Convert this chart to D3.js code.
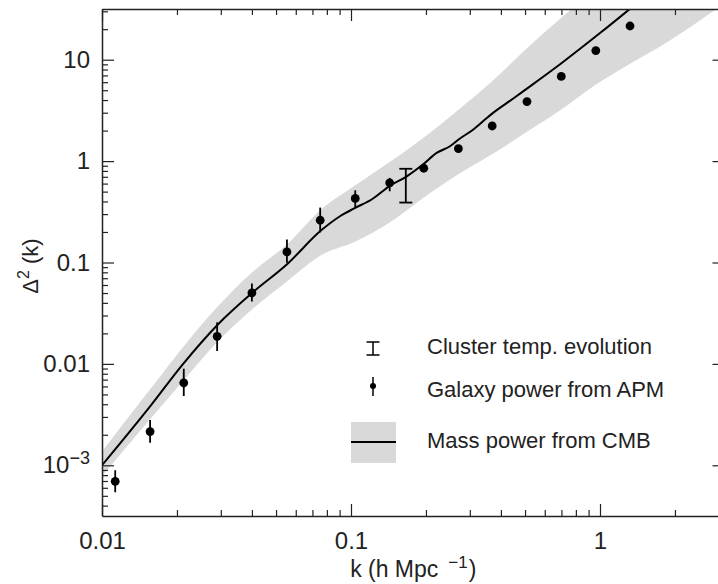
<!DOCTYPE html>
<html>
<head>
<meta charset="UTF-8">
<title>Power spectrum</title>
<script src="https://cdn.jsdelivr.net/npm/d3@7"></script>
<style>
  body { margin: 0; background: #fff; }
  text { font-family: "Liberation Sans", Arial, Helvetica, sans-serif; fill: #222; }
</style>
</head>
<body>
<script>
// galaxy power from APM (k, value, error bar ends)
var galaxyK  = [0.0113, 0.0156, 0.0213, 0.029, 0.040, 0.0553, 0.0752, 0.104, 0.143, 0.196, 0.27, 0.369, 0.509, 0.699, 0.962, 1.32];
var galaxyP  = [6.95e-4, 2.15e-3, 6.5e-3, 0.0187, 0.0502, 0.127, 0.261, 0.428, 0.61, 0.85, 1.33, 2.22, 3.86, 6.84, 12.3, 21.5];
var galaxyLo = [5.42e-4, 1.67e-3, 4.82e-3, 0.0134, 0.0413, 0.0993, 0.198, 0.346, 0.504, 0.79, 1.25, 2.12, 3.7, 6.55, 11.8, 20.6];
var galaxyHi = [8.93e-4, 2.79e-3, 8.97e-3, 0.0257, 0.0621, 0.169, 0.348, 0.515, 0.683, 0.91, 1.41, 2.33, 4.03, 7.14, 12.8, 22.4];

// cluster temperature evolution
var clusterK = 0.166, clusterLo = 0.39, clusterHi = 0.84;

// mass power from CMB: curve
var cmbK = [0.01, 0.0156, 0.0211, 0.0292, 0.0401, 0.0552, 0.0757, 0.0903, 0.104, 0.121, 0.1428, 0.167, 0.1945, 0.2215, 0.2498, 0.274, 0.309, 0.339, 0.372, 0.447, 0.491, 0.702, 1.0, 1.32];
var cmbP = [1.0e-3, 3.81e-3, 9.9e-3, 0.0245, 0.0502, 0.0955, 0.2065, 0.286, 0.346, 0.418, 0.567, 0.704, 0.924, 1.21, 1.40, 1.67, 2.04, 2.47, 2.99, 4.12, 4.87, 9.28, 18.3, 31.8];

// mass power from CMB: band
var bandK  = [0.01, 0.0156, 0.0211, 0.0289, 0.040, 0.0553, 0.0758, 0.1038, 0.142, 0.1943, 0.2696, 0.3671, 0.5111, 0.6992, 0.9602, 1.321, 1.818, 3.16];
var bandHi = [1.37e-3, 5.61e-3, 0.01455, 0.036, 0.0797, 0.1504, 0.333, 0.5735, 0.966, 1.68, 3.2, 6.07, 13.1, 25.9, 51, 101, 200, 700];
var bandLo = [7.8e-4, 2.84e-3, 6.73e-3, 0.0163, 0.0344, 0.065, 0.118, 0.16, 0.245, 0.43, 0.74, 1.159, 1.953, 3.22, 5.67, 9.13, 14.4, 36];

var xMajor = [0.01, 0.1, 1];
var yMajor = [0.001, 0.01, 0.1, 1, 10];
var xLabels = ["0.01", "0.1", "1"];
var yLabels = ["10-3", "0.01", "0.1", "1", "10"];

var legendLabels = ["Cluster temp. evolution", "Galaxy power from APM", "Mass power from CMB"];

var width = 718, height = 584;
var pLeft = 102, pRight = 724.5, pTop = 9, pBottom = 516;

var svg = d3.select("body").append("svg")
  .attr("width", width)
  .attr("height", height);

var x = d3.scaleLog().domain([0.01, Math.pow(10, 0.5)]).range([pLeft, pRight]);
var y = d3.scaleLog().domain([Math.pow(10, -3.5), Math.pow(10, 1.5)]).range([pBottom, pTop]);

svg.append("clipPath").attr("id", "plotclip")
  .append("rect").attr("x", pLeft).attr("y", pTop).attr("width", pRight - pLeft).attr("height", pBottom - pTop);

var plot = svg.append("g").attr("clip-path", "url(#plotclip)");

// band
var band = bandK.map(function(k, i) { return { k: k, lo: bandLo[i], hi: bandHi[i] }; });
plot.append("path")
  .datum(band)
  .attr("fill", "#d9d9d9")
  .attr("d", d3.area()
    .x(function(d) { return x(d.k); })
    .y0(function(d) { return y(d.lo); })
    .y1(function(d) { return y(d.hi); })
    .curve(d3.curveMonotoneX));

// curve
var cmb = cmbK.map(function(k, i) { return { k: k, p: cmbP[i] }; });
plot.append("path")
  .datum(cmb)
  .attr("fill", "none")
  .attr("stroke", "#000")
  .attr("stroke-width", 2)
  .attr("d", d3.line()
    .x(function(d) { return x(d.k); })
    .y(function(d) { return y(d.p); })
    .curve(d3.curveMonotoneX));

// galaxy points
var gal = galaxyK.map(function(k, i) { return { k: k, p: galaxyP[i], lo: galaxyLo[i], hi: galaxyHi[i] }; });
plot.selectAll(".gbar").data(gal).enter().append("line")
  .attr("x1", function(d) { return x(d.k); })
  .attr("x2", function(d) { return x(d.k); })
  .attr("y1", function(d) { return y(d.lo); })
  .attr("y2", function(d) { return y(d.hi); })
  .attr("stroke", "#000")
  .attr("stroke-width", 1.8);
plot.selectAll(".gdot").data(gal).enter().append("circle")
  .attr("cx", function(d) { return x(d.k); })
  .attr("cy", function(d) { return y(d.p); })
  .attr("r", 4.4)
  .attr("fill", "#000");

// cluster error bar
var cx = x(clusterK);
plot.append("line").attr("x1", cx).attr("x2", cx).attr("y1", y(clusterLo)).attr("y2", y(clusterHi))
  .attr("stroke", "#000").attr("stroke-width", 1.8);
[clusterLo, clusterHi].forEach(function(v) {
  plot.append("line").attr("x1", cx - 6.5).attr("x2", cx + 6.5).attr("y1", y(v)).attr("y2", y(v))
    .attr("stroke", "#000").attr("stroke-width", 1.8);
});

// axes
function minorTicks(scale) {
  var d = scale.domain(), out = [];
  for (var e = Math.floor(Math.log10(d[0])); e <= Math.ceil(Math.log10(d[1])); e++) {
    for (var m = 2; m <= 9; m++) {
      var v = m * Math.pow(10, e);
      if (v >= d[0] && v <= d[1]) out.push(v);
    }
  }
  return out;
}
var xMinor = minorTicks(x), yMinor = minorTicks(y);

function styleAxis(g) {
  g.select(".domain").attr("stroke", "#222").attr("stroke-width", 1.5);
  g.selectAll(".tick line").attr("stroke", "#222").attr("stroke-width", 1.2);
}

var gb = svg.append("g").attr("transform", "translate(0," + pBottom + ")");
gb.call(d3.axisBottom(x).tickValues(xMajor).tickSize(-12).tickSizeOuter(0).tickPadding(16)
  .tickFormat(function(d, i) { return xLabels[i]; }));
gb.append("g").call(d3.axisBottom(x).tickValues(xMinor).tickSize(-6).tickSizeOuter(0).tickFormat(""))
  .select(".domain").remove();
gb.selectAll("text").attr("font-size", 24).attr("fill", "#222");
styleAxis(gb);

var gt = svg.append("g").attr("transform", "translate(0," + pTop + ")");
gt.call(d3.axisTop(x).tickValues(xMajor).tickSize(-12).tickSizeOuter(0).tickFormat(""));
gt.append("g").call(d3.axisTop(x).tickValues(xMinor).tickSize(-6).tickSizeOuter(0).tickFormat(""))
  .select(".domain").remove();
styleAxis(gt);

var gl = svg.append("g").attr("transform", "translate(" + pLeft + ",0)");
gl.call(d3.axisLeft(y).tickValues(yMajor).tickSize(-12).tickSizeOuter(0).tickPadding(12)
  .tickFormat(function(d, i) { return yLabels[i]; }));
gl.append("g").call(d3.axisLeft(y).tickValues(yMinor).tickSize(-6).tickSizeOuter(0).tickFormat(""))
  .select(".domain").remove();
gl.selectAll("text").attr("font-size", 24).attr("fill", "#222");
gl.selectAll(".tick text").filter(function(d) { return d === 0.001; })
  .text(null)
  .call(function(t) {
    t.append("tspan").text("10");
    t.append("tspan").attr("dy", -9).attr("font-size", 18).text("\u22123");
  });
styleAxis(gl);

var gr = svg.append("g").attr("transform", "translate(" + pRight + ",0)");
gr.call(d3.axisRight(y).tickValues(yMajor).tickSize(-12).tickSizeOuter(0).tickFormat(""));
gr.append("g").call(d3.axisRight(y).tickValues(yMinor).tickSize(-6).tickSizeOuter(0).tickFormat(""))
  .select(".domain").remove();
styleAxis(gr);

// axis titles
var xt = svg.append("text")
  .attr("x", (pLeft + pRight) / 2)
  .attr("y", 577)
  .attr("text-anchor", "middle")
  .attr("font-size", 23);
xt.append("tspan").text("k (h Mpc");
xt.append("tspan").attr("dx", 10).attr("dy", -9).attr("font-size", 17).text("\u22121");
xt.append("tspan").attr("dx", 1).attr("dy", 9).text(")");

var yt = svg.append("text")
  .attr("transform", "translate(38,266) rotate(-90)")
  .attr("text-anchor", "middle")
  .attr("font-size", 22);
yt.append("tspan").text("\u0394");
yt.append("tspan").attr("dy", -9).attr("font-size", 16).text("2");
yt.append("tspan").attr("dy", 9).text(" (k)");

// legend
var legX = 373, textX = 427;
var legBase = [354, 397, 448];
var lg = svg.append("g");
legendLabels.forEach(function(s, i) {
  lg.append("text").attr("x", textX).attr("y", legBase[i]).attr("font-size", 22).text(s);
});
// cluster icon
lg.append("line").attr("x1", legX).attr("x2", legX).attr("y1", 342).attr("y2", 355).attr("stroke", "#000").attr("stroke-width", 1.5);
[342, 355].forEach(function(v) {
  lg.append("line").attr("x1", legX - 6.5).attr("x2", legX + 6.5).attr("y1", v).attr("y2", v).attr("stroke", "#000").attr("stroke-width", 1.5);
});
// galaxy icon
lg.append("line").attr("x1", legX).attr("x2", legX).attr("y1", 377).attr("y2", 396).attr("stroke", "#000").attr("stroke-width", 1.5);
lg.append("circle").attr("cx", legX).attr("cy", 386).attr("r", 3).attr("fill", "#000");
// mass icon
lg.append("rect").attr("x", 351).attr("y", 422).attr("width", 45).attr("height", 41).attr("fill", "#d9d9d9");
lg.append("line").attr("x1", 351).attr("x2", 396).attr("y1", 442).attr("y2", 442).attr("stroke", "#000").attr("stroke-width", 2);
</script>
</body>
</html>
